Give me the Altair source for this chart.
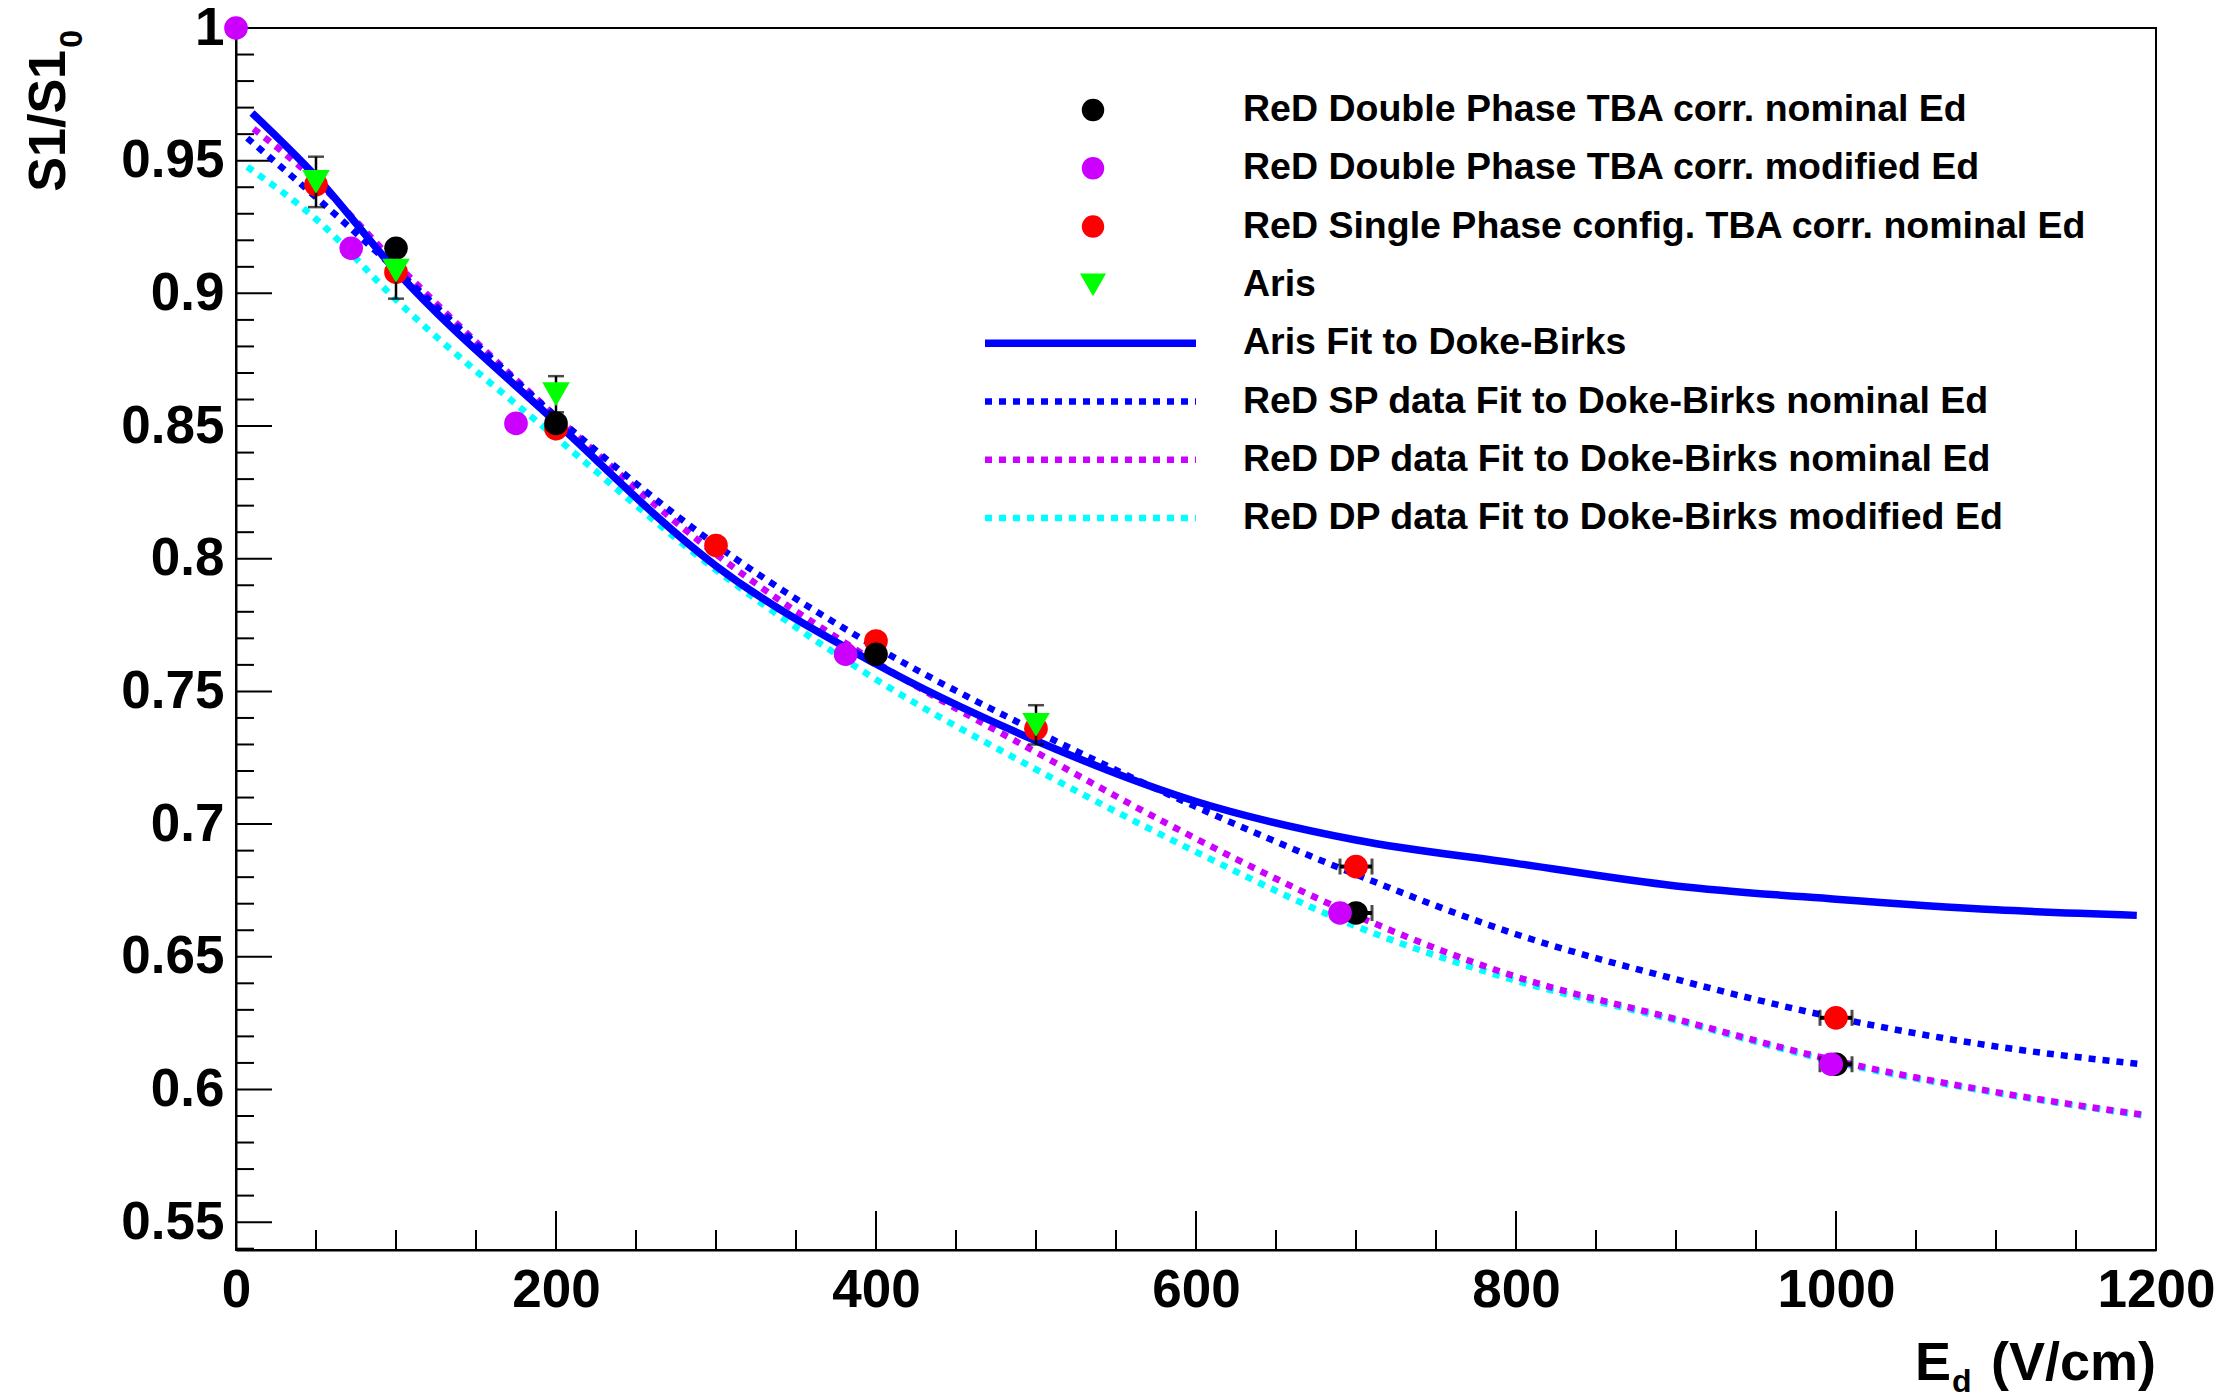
import altair as alt
import pandas as pd

# ---------------- data ----------------
dp_nom_x = [100, 200, 400, 700, 1000]
dp_nom_y = [0.917, 0.851, 0.764, 0.6665, 0.6095]
dp_nom_xerr = [0, 0, 0, 10, 10]

dp_mod_x = [0, 72, 175, 381, 690, 997]
dp_mod_y = [1.0, 0.917, 0.851, 0.764, 0.6665, 0.6095]

sp_x = [50, 100, 200, 300, 400, 500, 700, 1000]
sp_y = [0.941, 0.908, 0.849, 0.805, 0.769, 0.736, 0.684, 0.627]
sp_xerr = [0, 0, 0, 0, 0, 0, 10, 10]

aris_x = [50, 100, 200, 500]
aris_y = [0.942, 0.9085, 0.862, 0.7374]
aris_yerr = [0.0095, 0.0105, 0.0068, 0.0074]

aris_fit_x = [10, 50, 100, 200, 300, 400, 500, 600, 700, 800, 900, 1000, 1100, 1188]
aris_fit_y = [0.968, 0.944, 0.9085, 0.8514, 0.7973, 0.7603, 0.7314, 0.7085, 0.6940, 0.6852,
              0.6767, 0.6717, 0.6677, 0.6656]

sp_fit_x = [7, 40, 100, 200, 300, 400, 500, 600, 700, 800, 900, 1000, 1100, 1191]
sp_fit_y = [0.9585, 0.9415, 0.909, 0.8536, 0.8052, 0.7667, 0.7350, 0.7065, 0.6810, 0.6585,
            0.6415, 0.6270, 0.6162, 0.6095]

dp_nom_fit_x = [11, 50, 100, 200, 300, 400, 500, 600, 700, 800, 900, 1000, 1100, 1191]
dp_nom_fit_y = [0.962, 0.9425, 0.9113, 0.8536, 0.8017, 0.7610, 0.7271, 0.6945, 0.6655, 0.6425,
                0.6265, 0.6108, 0.5990, 0.5905]

dp_mod_fit_x = [7, 50, 100, 200, 300, 400, 500, 600, 700, 800, 900, 1000, 1100, 1191]
dp_mod_fit_y = [0.9477, 0.928, 0.8976, 0.8457, 0.7958, 0.7545, 0.7206, 0.6895, 0.6615, 0.6410,
                0.6260, 0.6103, 0.5987, 0.5903]

x_major = [0, 200, 400, 600, 800, 1000, 1200]
y_major = [0.55, 0.6, 0.65, 0.7, 0.75, 0.8, 0.85, 0.9, 0.95, 1.0]
x_minor = [v for v in range(50, 1200, 50) if v % 200 != 0]
y_minor = [round(0.54 + 0.01 * i, 2) for i in range(0, 46) if (i + 54) % 5 != 0]

legend_points = [
    ("ReD Double Phase TBA corr. nominal Ed", "black", "circle"),
    ("ReD Double Phase TBA corr. modified Ed", "#cc00ff", "circle"),
    ("ReD Single Phase config. TBA corr. nominal Ed", "#ff0000", "circle"),
    ("Aris", "#00ff00", "triangle-down"),
]
legend_lines = [
    ("Aris Fit to Doke-Birks", "#0000ff", None),
    ("ReD SP data Fit to Doke-Birks nominal Ed", "#0000ff", [7, 7]),
    ("ReD DP data Fit to Doke-Birks nominal Ed", "#cc00ff", [7, 7]),
    ("ReD DP data Fit to Doke-Birks modified Ed", "#00ffff", [7, 7]),
]

# ---------------- layout ----------------
W, H = 1920, 1222
FONT = "Liberation Sans"
DASH = [7, 7]
DOT_W = 6.5
SOLID_W = 7.5
PT = 560
TRI = 760
xs = alt.Scale(domain=[0, 1200], nice=False, zero=False)
ys = alt.Scale(domain=[0.5395, 1.0], nice=False, zero=False)
xaxis = alt.Axis(values=x_major, title=None, ticks=False, grid=False, labelFontSize=53,
                 labelFont=FONT, labelFontWeight="bold", labelColor="black", labelPadding=14,
                 domainColor="black", domainWidth=2, labelFlush=False, format="d")
yaxis = alt.Axis(values=y_major, title=None, ticks=False, grid=False, labelFontSize=53,
                 labelFont=FONT, labelFontWeight="bold", labelColor="black", labelPadding=12,
                 domainColor="black", domainWidth=2, format="~g", labelFlush=False)


def X(f):
    return alt.X(f, type="quantitative", scale=xs, axis=xaxis)


def Y(f):
    return alt.Y(f, type="quantitative", scale=ys, axis=yaxis)


layers = []

# ticks (inward)
xmaj = pd.DataFrame({"v": x_major})
xmin = pd.DataFrame({"v": x_minor})
ymaj = pd.DataFrame({"v": y_major})
ymin = pd.DataFrame({"v": y_minor})
layers.append(alt.Chart(xmaj).mark_rule(color="black", strokeWidth=2).encode(
    x=X("v"), y=alt.value(H), y2=alt.value(H - 39)))
layers.append(alt.Chart(xmin).mark_rule(color="black", strokeWidth=2).encode(
    x=X("v"), y=alt.value(H), y2=alt.value(H - 20)))
layers.append(alt.Chart(ymaj).mark_rule(color="black", strokeWidth=2).encode(
    y=Y("v"), x=alt.value(0), x2=alt.value(36)))
layers.append(alt.Chart(ymin).mark_rule(color="black", strokeWidth=2).encode(
    y=Y("v"), x=alt.value(0), x2=alt.value(18)))

# fit curves
fits = [
    (dp_mod_fit_x, dp_mod_fit_y, "#00ffff", DASH, DOT_W),
    (dp_nom_fit_x, dp_nom_fit_y, "#cc00ff", DASH, DOT_W),
    (sp_fit_x, sp_fit_y, "#0000ff", DASH, DOT_W),
    (aris_fit_x, aris_fit_y, "#0000ff", None, SOLID_W),
]
for fx, fy, col, dash, sw in fits:
    df = pd.DataFrame({"x": fx, "y": fy})
    kw = dict(color=col, strokeWidth=sw, strokeCap="butt", interpolate="monotone")
    if dash:
        kw["strokeDash"] = dash
    layers.append(alt.Chart(df).mark_line(**kw).encode(x=X("x"), y=Y("y")))


def xerr_layers(df):
    e = df[df.e > 0]
    out = [alt.Chart(e).mark_rule(color="black", strokeWidth=4).encode(x=X("lo"), x2="hi", y=Y("y"))]
    for c in ("lo", "hi"):
        out.append(alt.Chart(e).mark_tick(orient="vertical", color="black", size=16, thickness=3).encode(
            x=X(c), y=Y("y")))
    return out


# points: red SP
sp = pd.DataFrame({"x": sp_x, "y": sp_y, "lo": [a - e for a, e in zip(sp_x, sp_xerr)],
                   "hi": [a + e for a, e in zip(sp_x, sp_xerr)], "e": sp_xerr})
layers += xerr_layers(sp)
layers.append(alt.Chart(sp).mark_point(filled=True, shape="circle", size=PT, color="#ff0000", opacity=1).encode(x=X("x"), y=Y("y")))

# black DP nominal
dn = pd.DataFrame({"x": dp_nom_x, "y": dp_nom_y, "lo": [a - e for a, e in zip(dp_nom_x, dp_nom_xerr)],
                   "hi": [a + e for a, e in zip(dp_nom_x, dp_nom_xerr)], "e": dp_nom_xerr})
layers += xerr_layers(dn)
layers.append(alt.Chart(dn).mark_point(filled=True, shape="circle", size=PT, color="black", opacity=1).encode(x=X("x"), y=Y("y")))

# magenta DP modified
dm = pd.DataFrame({"x": dp_mod_x, "y": dp_mod_y})
layers.append(alt.Chart(dm).mark_point(filled=True, shape="circle", size=PT, color="#cc00ff", opacity=1).encode(x=X("x"), y=Y("y")))

# green Aris with vertical error bars
ar = pd.DataFrame({"x": aris_x, "y": aris_y,
                   "lo": [a - e for a, e in zip(aris_y, aris_yerr)],
                   "hi": [a + e for a, e in zip(aris_y, aris_yerr)]})
layers.append(alt.Chart(ar).mark_rule(color="black", strokeWidth=2.5).encode(x=X("x"), y=Y("lo"), y2="hi"))
for c in ("lo", "hi"):
    layers.append(alt.Chart(ar).mark_tick(orient="horizontal", color="black", size=16, thickness=2.5).encode(
        x=X("x"), y=Y(c)))
layers.append(alt.Chart(ar).mark_point(filled=True, shape="triangle-down", size=TRI, color="#00ff00", opacity=1).encode(x=X("x"), y=Y("y")))

# ---------------- legend (inside the frame) ----------------
row0, drow = 82, 58.3
mark_x, line_x0, line_x1, text_x = 857, 749, 960, 1007
LEG_FS = 37.5
for i, (lab, col, shp) in enumerate(legend_points):
    yy = row0 + i * drow
    d1 = pd.DataFrame({"label": [lab]})
    layers.append(alt.Chart(d1).mark_point(filled=True, shape=shp, size=(TRI if shp != "circle" else PT) * 0.9,
                                           color=col, opacity=1).encode(
        x=alt.value(mark_x), y=alt.value(yy)))
    layers.append(alt.Chart(d1).mark_text(align="left", baseline="middle", font=FONT, fontWeight="bold",
                                          fontSize=LEG_FS, color="black").encode(
        x=alt.value(text_x), y=alt.value(yy), text="label:N"))
for j, (lab, col, dash) in enumerate(legend_lines):
    yy = row0 + (j + 4) * drow
    d1 = pd.DataFrame({"label": [lab]})
    kw = dict(color=col, strokeWidth=SOLID_W if dash is None else DOT_W, strokeCap="butt")
    if dash:
        kw["strokeDash"] = dash
    layers.append(alt.Chart(d1).mark_rule(**kw).encode(
        x=alt.value(line_x0), x2=alt.value(line_x1), y=alt.value(yy)))
    layers.append(alt.Chart(d1).mark_text(align="left", baseline="middle", font=FONT, fontWeight="bold",
                                          fontSize=LEG_FS, color="black").encode(
        x=alt.value(text_x), y=alt.value(yy), text="label:N"))

# ---------------- axis titles with subscripts ----------------
t = pd.DataFrame({"s": ["S1/S1"]})
layers.append(alt.Chart(t).mark_text(angle=270, align="right", baseline="alphabetic", font=FONT,
                                     fontWeight="bold", fontSize=52, color="black").encode(
    x=alt.value(-171), y=alt.value(22), text="s:N"))
t0 = pd.DataFrame({"s": ["0"]})
layers.append(alt.Chart(t0).mark_text(angle=270, align="right", baseline="alphabetic", font=FONT,
                                      fontWeight="bold", fontSize=32, color="black").encode(
    x=alt.value(-154), y=alt.value(2), text="s:N"))
te = pd.DataFrame({"s": ["E"]})
layers.append(alt.Chart(te).mark_text(align="left", baseline="alphabetic", font=FONT, fontWeight="bold",
                                      fontSize=54, color="black").encode(
    x=alt.value(1679), y=alt.value(1352), text="s:N"))
td = pd.DataFrame({"s": ["d"]})
layers.append(alt.Chart(td).mark_text(align="left", baseline="alphabetic", font=FONT, fontWeight="bold",
                                      fontSize=32, color="black").encode(
    x=alt.value(1716), y=alt.value(1364), text="s:N"))
tu = pd.DataFrame({"s": ["(V/cm)"]})
layers.append(alt.Chart(tu).mark_text(align="right", baseline="alphabetic", font=FONT, fontWeight="bold",
                                      fontSize=54, color="black").encode(
    x=alt.value(W), y=alt.value(1352), text="s:N"))

chart = alt.layer(*layers).properties(
    width=W, height=H,
    padding={"left": 236, "top": 28, "right": 77, "bottom": 149},
    autosize=alt.AutoSizeParams(type="none"),
    background="white",
).configure_view(stroke="black", strokeWidth=2)

chart.save("out.html", embed_options={"renderer": "svg", "actions": False})
